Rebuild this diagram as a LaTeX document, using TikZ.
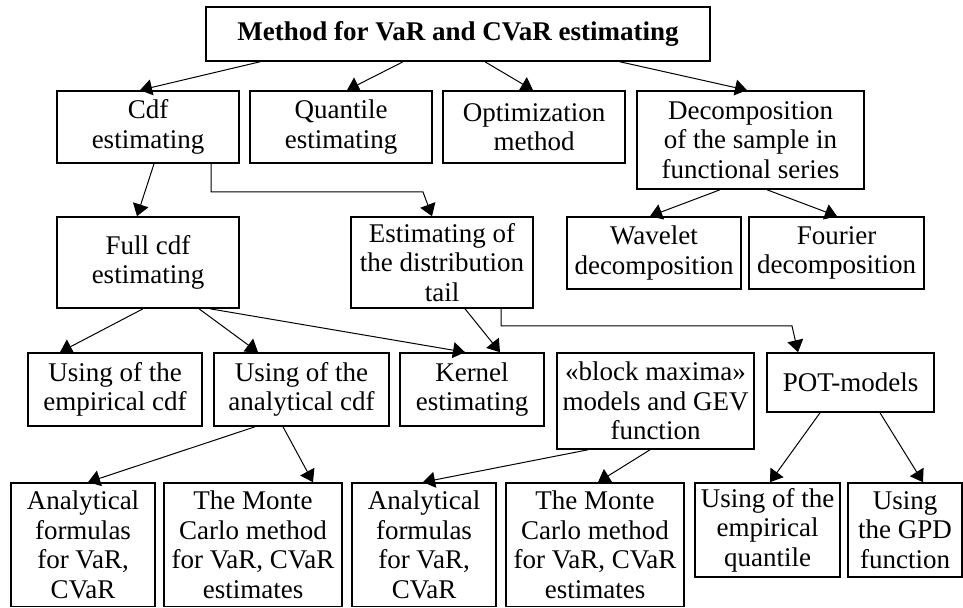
\documentclass[tikz,border=0pt]{standalone}
\usepackage{fontspec}
\setmainfont{Liberation Serif}
\usetikzlibrary{arrows.meta,positioning}

\tikzset{
  box/.style={draw, line width=0.8pt, inner sep=0pt, align=center,
    font=\fontsize{13.5}{14.8}\selectfont},
  size/.style 2 args={minimum width=#1*0.5pt, minimum height=#2*0.5pt},
  link/.style={-{Triangle[length=6pt,width=8pt]}, line width=0.5pt},
}

\begin{document}
\begin{tikzpicture}[x=0.5pt, y=-0.5pt]
    \useasboundingbox (0,0) rectangle (963,608);

    % root
    \node[box, size={504}{54}] (root) at (458,34) {\textbf{Method for VaR and CVaR estimating}};

    % second row
    \node[box, size={182}{72}] (cdf) at (148,127) {Cdf\\estimating};
    \node[box, size={182}{72}] (quant) at (341,127) {Quantile\\estimating};
    \node[box, size={182}{72}] (optim) at (534,127) {Optimization\\method};
    \node[box, size={227}{98}] (decomp) at (750.5,140) {Decomposition\\of the sample in\\functional series};

    % third row
    \node[box, size={182}{91}] (full) at (148,262.5) {Full cdf\\estimating};
    \node[box, size={182}{91}] (tail) at (442,262.5) {Estimating of\\the distribution\\tail};
    \node[box, size={174}{72}] (wave) at (654,253) {Wavelet\\decomposition};
    \node[box, size={175}{72}] (four) at (836.5,253) {Fourier\\decomposition};

    % fourth row
    \node[box, size={174}{73}] (emp) at (115,389.5) {Using of the\\empirical cdf};
    \node[box, size={175}{73}] (ana) at (301.5,389.5) {Using of the\\analytical cdf};
    \node[box, size={144}{73}] (kern) at (472,389.5) {Kernel\\estimating};
    \node[box, size={197}{96}] (block) at (655.5,401) {«block maxima»\\models and GEV\\function};
    \node[box, size={167}{59}] (pot) at (850.5,382.5) {POT-models};

    % bottom row
    \node[box, size={144}{123.5}] (af1) at (83,544.75) {Analytical\\formulas\\for VaR,\\CVaR};
    \node[box, size={178}{123.5}] (mc1) at (253,544.75) {The Monte\\Carlo method\\for VaR, CVaR\\estimates};
    \node[box, size={144}{123.5}] (af2) at (424,544.75) {Analytical\\formulas\\for VaR,\\CVaR};
    \node[box, size={178}{123.5}] (mc2) at (595,544.75) {The Monte\\Carlo method\\for VaR, CVaR\\estimates};
    \node[box, size={145}{94}] (empq) at (767.5,530) {Using of the\\empirical\\quantile};
    \node[box, size={114}{94}] (gpd) at (905,530) {Using\\the GPD\\function};

    % arrows from the root
    \draw[link] (root.south -| 260,0) -- (cdf.north -| 140,0);
    \draw[link] (root.south -| 403,0) -- (quant.north -| 347,0);
    \draw[link] (root.south -| 485,0) -- (optim.north -| 533,0);
    \draw[link] (root.south -| 620,0) -- (decomp.north -| 747,0);

    % cdf branch
    \draw[link] (cdf.south -| 154,0) -- (full.north -| 137,0);
    \draw[link] (cdf.south -| 211,0) -- (211,192) -- (423,192) -- (tail.north -| 432,0);
    \draw[link] (decomp.south -| 720,0) -- (wave.north -| 650,0);
    \draw[link] (decomp.south -| 767,0) -- (four.north -| 837,0);

    \draw[link] (full.south -| 143,0) -- (emp.north -| 60,0);
    \draw[link] (full.south -| 199,0) -- (ana.north -| 258,0);
    \draw[link] (full.south -| 210,0) -- (kern.north -| 465,0);
    \draw[link] (tail.south -| 465,0) -- (kern.north -| 500,0);
    \draw[link] (tail.south -| 501,0) -- (501,326) -- (792,326) -- (pot.north -| 798,0);

    % lower level
    \draw[link] (ana.south -| 255,0) -- (af1.north -| 88,0);
    \draw[link] (ana.south -| 283,0) -- (mc1.north -| 313,0);
    \draw[link] (block.south -| 588,0) -- (af2.north -| 423,0);
    \draw[link] (block.south -| 650,0) -- (mc2.north -| 598,0);
    \draw[link] (pot.south -| 820,0) -- (empq.north -| 770,0);
    \draw[link] (pot.south -| 880,0) -- (gpd.north -| 923,0);
\end{tikzpicture}
\end{document}
